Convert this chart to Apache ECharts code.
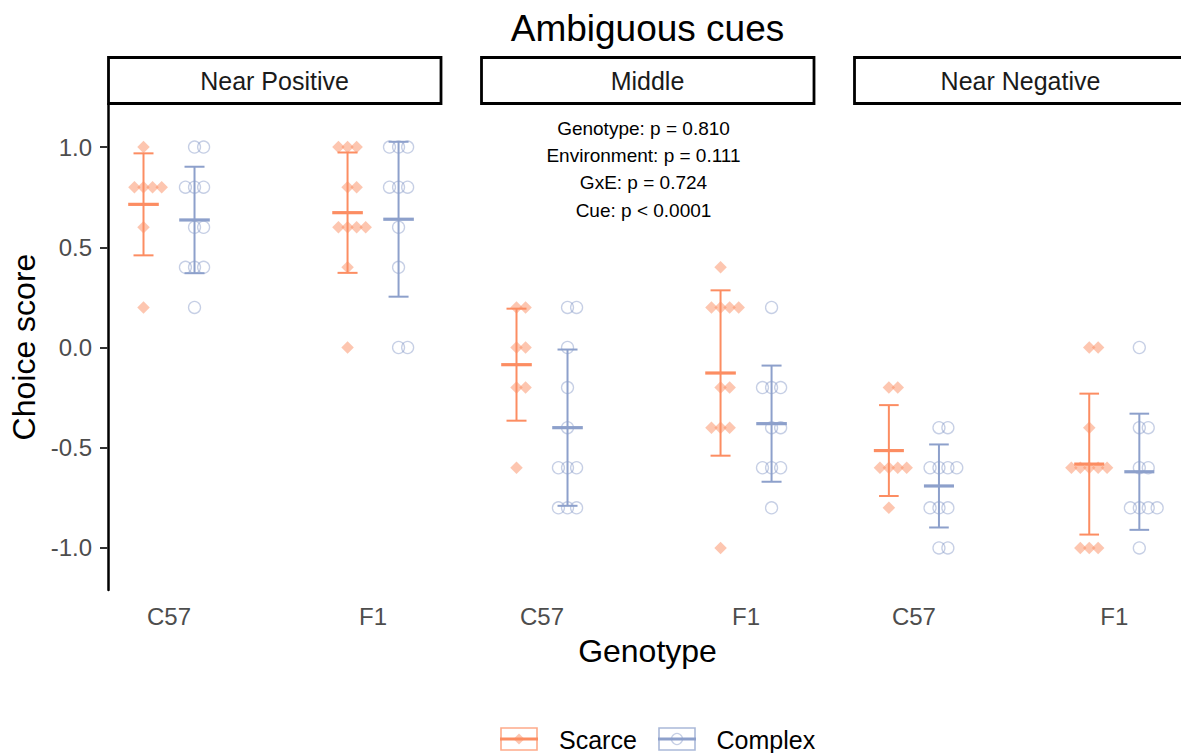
<!DOCTYPE html>
<html>
<head>
<meta charset="utf-8">
<script src="https://cdn.jsdelivr.net/npm/echarts@6/dist/echarts.min.js"></script>
<style>
html, body { margin: 0; padding: 0; background: #ffffff; }
#chart { width: 1181px; height: 753px; }
</style>
</head>
<body>
<div id="chart"></div>
<script>
// ---------------- data ----------------
const chartTitle = 'Ambiguous cues';
const xAxisTitle = 'Genotype';
const yAxisTitle = 'Choice score';
const panels = ['Near Positive', 'Middle', 'Near Negative'];
const genotypes = ['C57', 'F1'];
const environments = ['Scarce', 'Complex'];
const yTicks = [-1, -0.5, 0, 0.5, 1];
const annotationLines = [
  'Genotype: p = 0.810',
  'Environment: p = 0.111',
  'GxE: p = 0.724',
  'Cue: p < 0.0001'
];

// Near Positive
const nearPositiveScarceC57  = [1.0, 0.8, 0.8, 0.8, 0.8, 0.6, 0.2];
const nearPositiveScarceF1   = [1.0, 1.0, 1.0, 0.8, 0.8, 0.6, 0.6, 0.6, 0.6, 0.4, 0.0];
const nearPositiveComplexC57 = [1.0, 1.0, 0.8, 0.8, 0.8, 0.6, 0.6, 0.4, 0.4, 0.4, 0.2];
const nearPositiveComplexF1  = [1.0, 1.0, 1.0, 0.8, 0.8, 0.8, 0.6, 0.4, 0.0, 0.0];
// Middle
const middleScarceC57  = [0.2, 0.2, 0.0, 0.0, -0.2, -0.2, -0.6];
const middleScarceF1   = [0.4, 0.2, 0.2, 0.2, 0.2, -0.2, -0.2, -0.4, -0.4, -0.4, -1.0];
const middleComplexC57 = [0.2, 0.2, 0.0, -0.2, -0.4, -0.6, -0.6, -0.6, -0.8, -0.8, -0.8];
const middleComplexF1  = [0.2, -0.2, -0.2, -0.2, -0.4, -0.4, -0.6, -0.6, -0.6, -0.8];
// Near Negative
const nearNegativeScarceC57  = [-0.2, -0.2, -0.6, -0.6, -0.6, -0.6, -0.8];
const nearNegativeScarceF1   = [0.0, 0.0, -0.4, -0.6, -0.6, -0.6, -0.6, -0.6, -1.0, -1.0, -1.0];
const nearNegativeComplexC57 = [-0.4, -0.4, -0.6, -0.6, -0.6, -0.6, -0.8, -0.8, -0.8, -1.0, -1.0];
const nearNegativeComplexF1  = [0.0, -0.4, -0.4, -0.6, -0.6, -0.8, -0.8, -0.8, -0.8, -1.0];

// panel -> environment -> genotype
const scoreTable = [
  [[nearPositiveScarceC57, nearPositiveScarceF1], [nearPositiveComplexC57, nearPositiveComplexF1]],
  [[middleScarceC57, middleScarceF1], [middleComplexC57, middleComplexF1]],
  [[nearNegativeScarceC57, nearNegativeScarceF1], [nearNegativeComplexC57, nearNegativeComplexF1]]
];

// ---------------- style / layout ----------------
const FONT = '"Liberation Sans", Arial, Helvetica, sans-serif';
const envColor = ['#FC8D62', '#8DA0CB'];
const envSymbol = ['diamond', 'circle'];
const PANEL_LEFT0 = 108, PANEL_STEP = 373, PANEL_W = 333, PANEL_TOP = 104, PANEL_H = 486;
const X_MIN = 0.701, X_MAX = 2.333;
const Y_MIN = -1.21, Y_MAX = 1.215;
const DODGE = 0.125, SWARM_STEP = 0.0445, CAP_HALF = 0.049, MEAN_HALF = 0.075;

function mean(a) { return a.reduce((s, v) => s + v, 0) / a.length; }
function sd(a) { const m = mean(a); return Math.sqrt(a.reduce((s, v) => s + (v - m) * (v - m), 0) / (a.length - 1)); }

function swarmPoints(values, center) {
  const counts = {}, seen = {};
  values.forEach(v => { const k = v.toFixed(2); counts[k] = (counts[k] || 0) + 1; });
  return values.map(v => {
    const k = v.toFixed(2);
    const i = seen[k] || 0; seen[k] = i + 1;
    const n = counts[k];
    const off = (i - Math.floor((n - 1) / 2)) * SWARM_STEP;
    return [center + off, v];
  });
}

function makeErrorRender(color) {
  return function (params, api) {
    const x = api.value(0), m = api.value(1), lo = api.value(2), hi = api.value(3);
    const top = api.coord([x, hi]), bot = api.coord([x, lo]), mid = api.coord([x, m]);
    const capHalf = api.coord([x + CAP_HALF, hi])[0] - top[0];
    const meanHalf = api.coord([x + MEAN_HALF, m])[0] - mid[0];
    const st = { stroke: color, lineWidth: 2 };
    return {
      type: 'group',
      children: [
        { type: 'line', shape: { x1: top[0], y1: top[1], x2: bot[0], y2: bot[1] }, style: st },
        { type: 'line', shape: { x1: top[0] - capHalf, y1: top[1], x2: top[0] + capHalf, y2: top[1] }, style: st },
        { type: 'line', shape: { x1: bot[0] - capHalf, y1: bot[1], x2: bot[0] + capHalf, y2: bot[1] }, style: st },
        { type: 'line', shape: { x1: mid[0] - meanHalf, y1: mid[1], x2: mid[0] + meanHalf, y2: mid[1] }, style: { stroke: color, lineWidth: 3.2 } }
      ]
    };
  };
}

const grids = [], xAxes = [], yAxes = [], series = [], graphics = [];

panels.forEach((panelName, p) => {
  const left = PANEL_LEFT0 + PANEL_STEP * p;
  grids.push({ left: left, top: PANEL_TOP, width: PANEL_W, height: PANEL_H, containLabel: false });
  xAxes.push({
    type: 'value', gridIndex: p, min: X_MIN, max: X_MAX,
    axisLine: { show: false }, axisTick: { show: false }, splitLine: { show: false },
    axisLabel: {
      customValues: [1, 2], margin: 14, fontSize: 24, color: '#4D4D4D', fontFamily: FONT,
      formatter: v => genotypes[Math.round(v) - 1]
    },
    name: p === 1 ? xAxisTitle : '', nameLocation: 'middle', nameGap: 45,
    nameTextStyle: { fontSize: 32, color: '#000', fontFamily: FONT }
  });
  yAxes.push({
    type: 'value', gridIndex: p, min: Y_MIN, max: Y_MAX, show: p === 0,
    axisLine: { show: true, lineStyle: { color: '#000', width: 2.5 } },
    axisTick: { show: true, customValues: yTicks, length: 8, lineStyle: { color: '#333', width: 2 } },
    axisLabel: { customValues: yTicks, margin: 16, fontSize: 24, color: '#4D4D4D', fontFamily: FONT, formatter: v => v.toFixed(1) },
    splitLine: { show: false },
    name: p === 0 ? yAxisTitle : '', nameLocation: 'middle', nameGap: 68,
    nameTextStyle: { fontSize: 32, color: '#000', fontFamily: FONT }
  });

  environments.forEach((env, e) => {
    const dodge = e === 0 ? -DODGE : DODGE;
    const pts = [], bars = [];
    genotypes.forEach((g, gi) => {
      const vals = scoreTable[p][e][gi];
      const cx = gi + 1 + dodge;
      swarmPoints(vals, cx).forEach(pt => pts.push(pt));
      const m = mean(vals), s = sd(vals);
      bars.push([cx, m, m - s, m + s]);
    });
    series.push({
      type: 'scatter', name: env, xAxisIndex: p, yAxisIndex: p,
      symbol: envSymbol[e], symbolSize: e === 0 ? 12.5 : 12,
      itemStyle: e === 0
        ? { color: envColor[e], opacity: 0.5 }
        : { color: 'rgba(0,0,0,0)', borderColor: envColor[e], borderWidth: 1.3, opacity: 0.5 },
      emphasis: { disabled: true }, silent: true, z: 2,
      data: pts
    });
    series.push({
      type: 'custom', name: env, xAxisIndex: p, yAxisIndex: p,
      renderItem: makeErrorRender(envColor[e]),
      encode: { x: 0, y: [1, 2, 3] },
      itemStyle: { color: envColor[e] },
      silent: true, z: 3, clip: false,
      data: bars
    });
  });

  // facet strip
  graphics.push({
    type: 'rect', z: 10,
    shape: { x: left + 0.5, y: 57.5, width: PANEL_W - 0.5, height: 46 },
    style: { fill: '#fff', stroke: '#000', lineWidth: 2.8 }
  });
  graphics.push({
    type: 'text', z: 11, x: left + PANEL_W / 2, y: 81,
    style: { text: panelName, fontSize: 25, fontFamily: FONT, fill: '#1A1A1A', textAlign: 'center', textVerticalAlign: 'middle' }
  });
});

// title
graphics.push({
  type: 'text', z: 11, x: 647.5, y: 28,
  style: { text: chartTitle, fontSize: 37, fontFamily: FONT, fill: '#000', textAlign: 'center', textVerticalAlign: 'middle' }
});
// statistics annotation (middle panel)
graphics.push({
  type: 'text', z: 11, x: 643.5, y: 114.6,
  style: { text: annotationLines.join('\n'), fontSize: 19, lineHeight: 27.3, fontFamily: FONT, fill: '#000', textAlign: 'center', textVerticalAlign: 'top' }
});
// legend
const legendKeyX = [501, 659], legendTextX = [559, 716.5];
environments.forEach((env, e) => {
  const kx = legendKeyX[e], ky = 728, kw = 36, kh = 22, cx = kx + kw / 2, cy = ky + kh / 2;
  graphics.push({ type: 'rect', z: 11, shape: { x: kx, y: ky, width: kw, height: kh }, style: { fill: 'none', stroke: envColor[e], lineWidth: 1.6, opacity: 0.75 } });
  graphics.push({ type: 'line', z: 12, shape: { x1: kx - 1, y1: cy, x2: kx + kw + 1, y2: cy }, style: { stroke: envColor[e], lineWidth: 3 } });
  if (e === 0) {
    graphics.push({ type: 'polygon', z: 13, shape: { points: [[cx, cy - 5.5], [cx + 5.5, cy], [cx, cy + 5.5], [cx - 5.5, cy]] }, style: { fill: envColor[e], opacity: 0.5 } });
  } else {
    graphics.push({ type: 'circle', z: 13, shape: { cx: cx, cy: cy, r: 5.5 }, style: { fill: 'none', stroke: envColor[e], lineWidth: 1.3, opacity: 0.5 } });
  }
  graphics.push({
    type: 'text', z: 11, x: legendTextX[e], y: 739.5,
    style: { text: env, fontSize: 25, fontFamily: FONT, fill: '#000', textAlign: 'left', textVerticalAlign: 'middle' }
  });
});

const chart = echarts.init(document.getElementById('chart'), null, { renderer: 'svg', width: 1181, height: 753 });
chart.setOption({
  backgroundColor: '#ffffff',
  animation: false,
  textStyle: { fontFamily: FONT },
  grid: grids,
  xAxis: xAxes,
  yAxis: yAxes,
  series: series,
  graphic: graphics
});
</script>
</body>
</html>
